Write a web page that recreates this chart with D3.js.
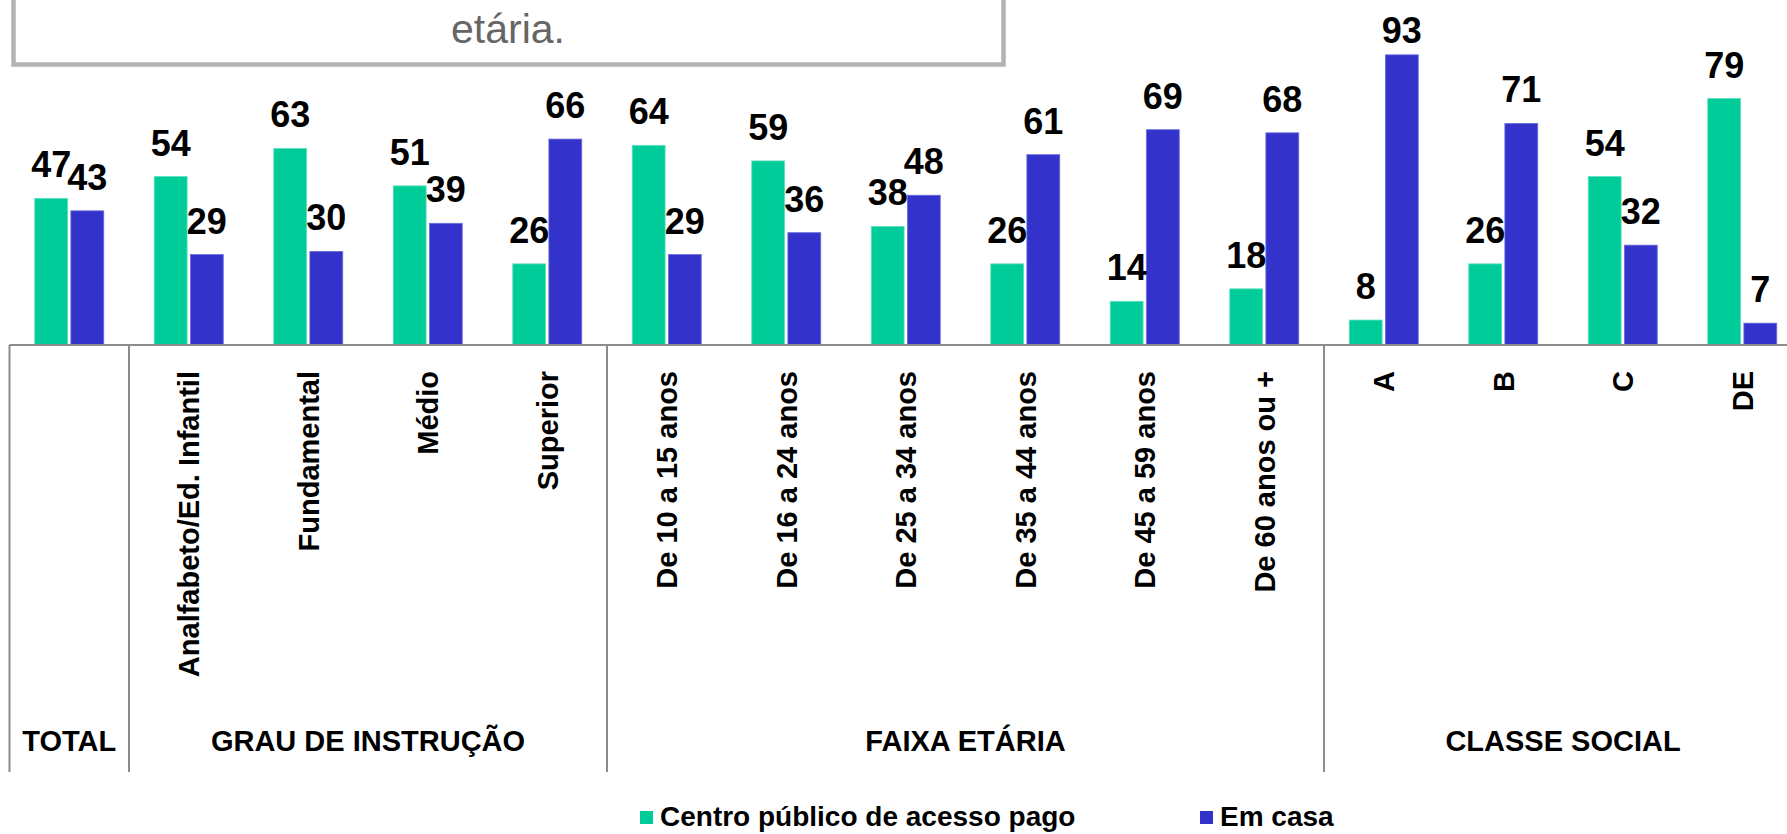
<!DOCTYPE html>
<html>
<head>
<meta charset="utf-8">
<script src="https://cdn.jsdelivr.net/npm/d3@7"></script>
<style>
  body { margin: 0; background: #fff; overflow: hidden; }
  text { font-family: "Liberation Sans", Arial, sans-serif; }
  .value { font-size: 36px; font-weight: bold; fill: #000; }
  .cat { font-size: 29px; font-weight: bold; fill: #000; }
  .group { font-size: 29px; font-weight: bold; fill: #000; }
  .legend text { font-size: 28px; font-weight: bold; fill: #000; }
</style>
</head>
<body>
<div id="chart"></div>
<script>
var width = 1787, height = 834;

// data
var categories = ["", "Analfabeto/Ed. Infantil", "Fundamental", "Médio", "Superior",
  "De 10 a 15 anos", "De 16 a 24 anos", "De 25 a 34 anos", "De 35 a 44 anos",
  "De 45 a 59 anos", "De 60 anos ou +", "A", "B", "C", "DE"];
var groupNames = ["TOTAL", "GRAU DE INSTRUÇÃO", "FAIXA ETÁRIA", "CLASSE SOCIAL"];
var groupSizes = [1, 4, 6, 4];
var seriesNames = ["Centro público de acesso pago", "Em casa"];
var centroPublico = [47, 54, 63, 51, 26, 64, 59, 38, 26, 14, 18, 8, 26, 54, 79];
var emCasa = [43, 29, 30, 39, 66, 29, 36, 48, 61, 69, 68, 93, 71, 32, 7];
var colors = ["#00cc99", "#3333cc"];

var baseY = 345;

var svg = d3.select("#chart").append("svg")
  .attr("width", width)
  .attr("height", height);

// title box (cut off at the top of the slide)
svg.append("rect")
  .attr("x", 13.5)
  .attr("y", -60)
  .attr("width", 990)
  .attr("height", 124.5)
  .attr("fill", "#fff")
  .attr("stroke", "#b3b3b3")
  .attr("stroke-width", 4.5);

svg.append("text")
  .attr("x", 508)
  .attr("y", 43)
  .attr("text-anchor", "middle")
  .style("font-size", "41px")
  .style("fill", "#666")
  .text("etária.");

var x = d3.scaleBand()
  .domain(d3.range(categories.length))
  .range([9.5, 1802]);

var x1 = d3.scaleBand()
  .domain([0, 1])
  .range([x.bandwidth() / 2 - 34.5, x.bandwidth() / 2 + 34.5])
  .paddingInner(0.09);

var y = d3.scaleLinear()
  .domain([0, 100])
  .range([baseY, 33]);

var rows = categories.map(function(c, i) {
  return { i: i, values: [centroPublico[i], emCasa[i]] };
});

var cat = svg.selectAll(".category")
  .data(rows)
  .enter().append("g")
    .attr("class", "category")
    .attr("transform", function(d) { return "translate(" + x(d.i) + ",0)"; });

cat.selectAll("rect")
  .data(function(d) { return d.values.map(function(v, s) { return { s: s, v: v }; }); })
  .enter().append("rect")
    .attr("x", function(d) { return x1(d.s); })
    .attr("y", function(d) { return y(d.v); })
    .attr("width", x1.bandwidth())
    .attr("height", function(d) { return baseY - y(d.v); })
    .attr("fill", function(d) { return colors[d.s]; })
    .attr("stroke", function(d) { return d.s ? "#6b6bdc" : "#5fe0bd"; })
    .attr("stroke-width", 0.8);

cat.selectAll(".value")
  .data(function(d) { return d.values.map(function(v, s) { return { s: s, v: v }; }); })
  .enter().append("text")
    .attr("class", "value")
    .attr("x", function(d) { return x1(d.s) + x1.bandwidth() / 2; })
    .attr("y", function(d) { return Math.max(y(d.v) - 21, 43); })
    .attr("text-anchor", "middle")
    .text(function(d) { return d.v; });

// category labels
svg.selectAll(".cat")
  .data(categories)
  .enter().append("text")
    .attr("class", "cat")
    .attr("text-anchor", "end")
    .attr("dy", "0.36em")
    .attr("transform", function(d, i) {
      return "translate(" + (x(i) + x.bandwidth() / 2) + ",371) rotate(-90)";
    })
    .text(function(d) { return d; });

// axis line
svg.append("line")
  .attr("x1", x.range()[0])
  .attr("x2", x.range()[1])
  .attr("y1", baseY)
  .attr("y2", baseY)
  .attr("stroke", "#8c8c8c")
  .attr("stroke-width", 2);

// group separators and group labels
var starts = [0];
groupSizes.forEach(function(n, i) { starts.push(starts[i] + n); });

svg.selectAll(".sep")
  .data(starts)
  .enter().append("line")
    .attr("class", "sep")
    .attr("x1", function(d) { return x.range()[0] + d * x.step(); })
    .attr("x2", function(d) { return x.range()[0] + d * x.step(); })
    .attr("y1", baseY)
    .attr("y2", 772)
    .attr("stroke", "#8c8c8c")
    .attr("stroke-width", 2);

svg.selectAll(".group")
  .data(groupNames)
  .enter().append("text")
    .attr("class", "group")
    .attr("text-anchor", "middle")
    .attr("x", function(d, i) {
      return x.range()[0] + (starts[i] + groupSizes[i] / 2) * x.step();
    })
    .attr("y", 751)
    .text(function(d) { return d; });

// legend
var legendX = [640, 1200];
var legend = svg.append("g")
    .attr("class", "legend")
  .selectAll("g")
    .data(seriesNames)
  .enter().append("g")
    .attr("transform", function(d, i) { return "translate(" + legendX[i] + ",826)"; });

legend.append("rect")
  .attr("x", 0)
  .attr("y", -15)
  .attr("width", 13)
  .attr("height", 13)
  .attr("fill", function(d, i) { return colors[i]; });

legend.append("text")
  .attr("x", 20)
  .attr("y", 0)
  .text(function(d) { return d; });
</script>
</body>
</html>
